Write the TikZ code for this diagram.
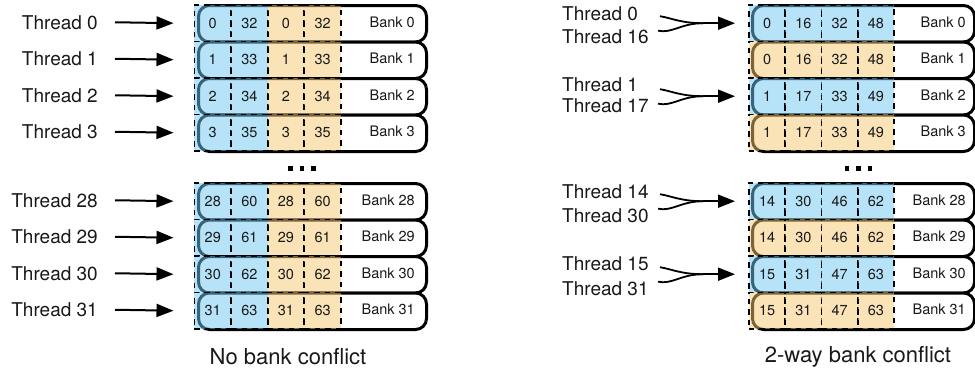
\documentclass[tikz,border=0pt]{standalone}
\usepackage{fontspec}
\setmainfont{TeX Gyre Heros}
\usetikzlibrary{arrows.meta}

\definecolor{inkc}{RGB}{25,25,25}
\definecolor{cellblue}{RGB}{112,200,245}
\definecolor{cellorange}{RGB}{249,201,115}

\begin{document}
\begin{tikzpicture}[x=1pt,y=-1pt,
  bankbox/.style={draw=black, line width=3pt, rounded corners=11pt, fill=white,
    minimum height=36.5pt, inner sep=0pt, anchor=north west},
  cell/.style={draw=black, line width=1.9pt, dash pattern=on 5.5pt off 5pt,
    fill opacity=0.5, text opacity=1, minimum height=36.5pt, inner sep=0pt,
    anchor=north west, text=inkc, font=\fontsize{14.5}{16}\selectfont},
  bcell/.style={cell, fill=cellblue},
  ocell/.style={cell, fill=cellorange},
  banklbl/.style={inner sep=0pt, anchor=east, text=inkc, font=\fontsize{14.5}{16}\selectfont},
  thr/.style={inner sep=0pt, text=inkc, font=\fontsize{19}{21}\selectfont},
  caption/.style={inner sep=0pt, text=inkc, font=\fontsize{22}{25}\selectfont},
  arr/.style={line width=2pt, -{Triangle[length=17pt,width=13pt]}},
  feed/.style={line width=1.8pt}
]
\useasboundingbox (0,0) rectangle (975,370);

% ---------- left panel: no bank conflict ----------
\foreach \k/\yt in {0/4, 1/40.5, 2/77, 3/113.5, 28/182, 29/218.5, 30/255, 31/291.5}{
  \pgfmathsetmacro\yc{\yt+18.25}
  \pgfmathtruncatemacro\hi{\k+32}
  \node[bankbox, minimum width=228pt] (L\k) at (197,\yt) {};
  \node[bcell, minimum width=36.6pt] (L\k c1) at (193.5,\yt) {\k};
  \node[bcell, minimum width=36.6pt] (L\k c2) at (230.1,\yt) {\hi};
  \node[ocell, minimum width=36.6pt] (L\k c3) at (266.7,\yt) {\k};
  \node[ocell, minimum width=36.7pt] (L\k c4) at (303.3,\yt) {\hi};
  \node[banklbl] (L\k b) at (415,\yc) {Bank \k};
  \node[thr, anchor=east] (LT\k) at (98,\yc) {Thread \k};
  \draw[arr] ([xshift=17pt]LT\k.east) -- ([xshift=-20pt]L\k c1.west);
}
\foreach \dx in {290.5,302,313.5}{
  \fill[black] (\dx-2.4,166) rectangle (\dx+2.4,170.6);
}
\node[caption] (capL) at (288,357) {No bank conflict};

% ---------- right panel: 2-way bank conflict ----------
\foreach \k/\yt/\v/\sty in {0/4/0/bcell, 1/40.5/0/ocell, 2/77/1/bcell, 3/113.5/1/ocell,
    28/182/14/bcell, 29/218.5/14/ocell, 30/255/15/bcell, 31/291.5/15/ocell}{
  \pgfmathsetmacro\yc{\yt+18.25}
  \pgfmathtruncatemacro\va{\v+16}
  \pgfmathtruncatemacro\vb{\v+32}
  \pgfmathtruncatemacro\vc{\v+48}
  \node[bankbox, minimum width=222pt] (R\k) at (751,\yt) {};
  \node[\sty, minimum width=36.25pt] (R\k c1) at (748,\yt) {\v};
  \node[\sty, minimum width=36.25pt] (R\k c2) at (784.25,\yt) {\va};
  \node[\sty, minimum width=36.25pt] (R\k c3) at (820.5,\yt) {\vb};
  \node[\sty, minimum width=36.25pt] (R\k c4) at (856.75,\yt) {\vc};
  \node[banklbl] (R\k b) at (966,\yc) {Bank \k};
}
\foreach \dx in {847,858.5,870}{
  \fill[black] (\dx-2.4,166) rectangle (\dx+2.4,170.6);
}
\node[caption] (capR) at (858,357) {2-way bank conflict};

% thread pairs sharing one bank, each arrow merging two feeds
\foreach \row/\ta/\tb/\ya/\yb in {0/0/16/14/37, 2/1/17/85/106, 28/14/30/192/216, 30/15/31/264/289}{
  \node[thr, anchor=west] (RT\ta) at (562,\ya) {Thread \ta};
  \node[thr, anchor=west] (RT\tb) at (562,\yb) {Thread \tb};
  \coordinate (M\row) at ([xshift=-45pt]R\row c1.west);
  \coordinate (Sa\row) at ([xshift=-90pt,yshift=-7.5pt]R\row c1.west);
  \coordinate (Sb\row) at ([xshift=-88pt,yshift=7pt]R\row c1.west);
  \draw[feed] (Sa\row) .. controls ([xshift=14pt,yshift=-3pt]Sa\row) and ([xshift=-22pt]M\row) .. (M\row);
  \draw[feed] (Sb\row) .. controls ([xshift=12pt,yshift=-2pt]Sb\row) and ([xshift=-22pt]M\row) .. (M\row);
  \draw[arr] (M\row) -- ([xshift=-13pt]R\row c1.west);
}
\end{tikzpicture}
\end{document}
